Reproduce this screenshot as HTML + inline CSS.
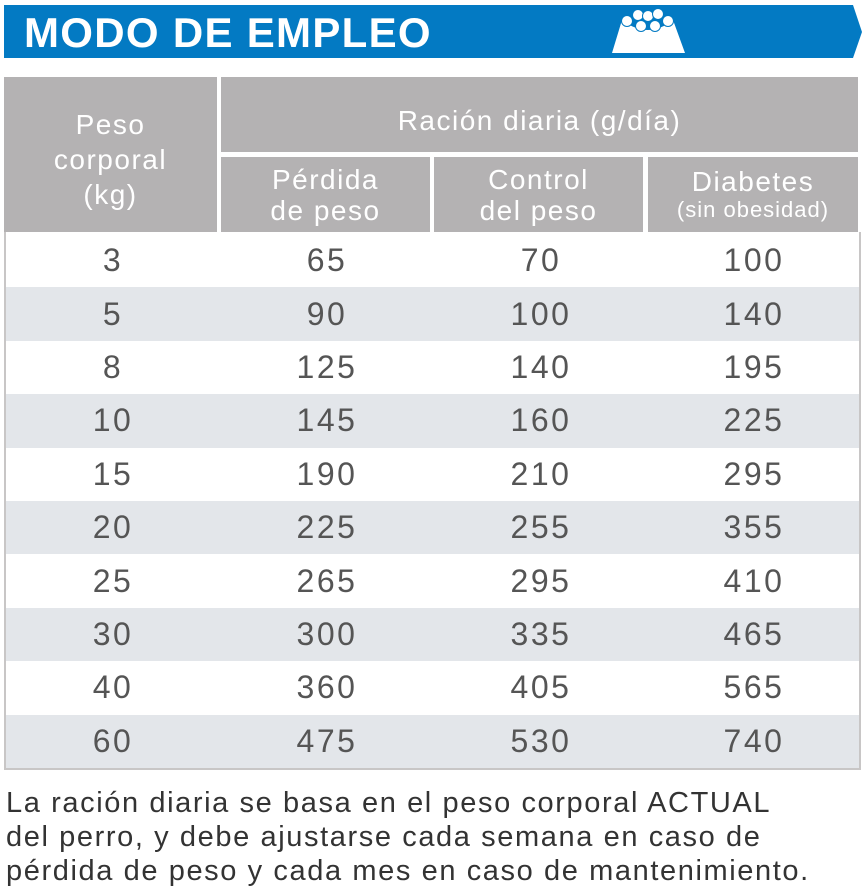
<!DOCTYPE html>
<html><head><meta charset="utf-8"><style>
body{margin:0;width:867px;height:891px;background:#fff;position:relative;font-family:"Liberation Sans",sans-serif;overflow:hidden}
.abs{position:absolute}
.hd{background:#b4b2b3;color:#fff;text-align:center;display:flex;flex-direction:column;justify-content:center;align-items:center;font-size:28px;line-height:31px;letter-spacing:1.5px}
.row{position:absolute;left:6px;width:853px;height:53.4px;display:flex;align-items:center}
.row span{position:absolute;width:140px;margin-left:-70px;text-align:center;font-size:32px;color:#555;letter-spacing:2.5px}
</style></head><body>
<svg class="abs" style="left:0;top:0" width="867" height="60">
<polygon points="4,5 853,5 862,32 853,58 4,58" fill="#037ac3"/>
<text x="24" y="47" font-family="Liberation Sans" font-weight="bold" font-size="42" fill="#fff" letter-spacing="1.3">MODO DE EMPLEO</text>
<g fill="#fff" stroke="#037ac3" stroke-width="1">
<path d="M622,20 Q648,40 673,20 L685,53 L612,53 Z" stroke="none"/>
<circle cx="627" cy="21" r="5.5"/><circle cx="668" cy="21" r="5.5"/>
<circle cx="638" cy="15" r="5.5"/><circle cx="648" cy="16" r="5.5"/><circle cx="658" cy="14" r="5.5"/>
<circle cx="641" cy="26" r="5.5"/><circle cx="655" cy="26" r="5.5"/>
</g>
</svg>
<div class="abs hd" style="left:4px;top:77px;width:213px;height:155px;line-height:35px;padding-top:10px;box-sizing:border-box">Peso<br>corporal<br>(kg)</div>
<div class="abs hd" style="left:221px;top:77px;width:637px;height:75px;padding-top:12px;box-sizing:border-box">Ración diaria (g/día)</div>
<div class="abs hd" style="left:221px;top:157px;width:209px;height:75px">Pérdida<br>de peso</div>
<div class="abs hd" style="left:434px;top:157px;width:209px;height:75px">Control<br>del peso</div>
<div class="abs hd" style="left:648px;top:157px;width:210px;height:75px">Diabetes<br><span style="font-size:22px;line-height:26px;letter-spacing:1px">(sin obesidad)</span></div>
<div class="abs" style="left:4px;top:232px;width:853px;height:536px;border:2px solid #c8c6c6;border-top:none"></div>
<div id="rows"></div>
<div class="abs" style="left:6px;top:786px;font-size:29px;line-height:34px;color:#333;letter-spacing:1.6px;white-space:nowrap">La ración diaria se basa en el peso corporal ACTUAL<br>del perro, y debe ajustarse cada semana en caso de<br>pérdida de peso y cada mes en caso de mantenimiento.</div>
<script>
const weights=[3,5,8,10,15,20,25,30,40,60];
const perdida=[65,90,125,145,190,225,265,300,360,475];
const control=[70,100,140,160,210,255,295,335,405,530];
const diabetes=[100,140,195,225,295,355,410,465,565,740];
const cols=[107,321,535,748];
const host=document.getElementById('rows');
weights.forEach((w,i)=>{
  const r=document.createElement('div');
  r.className='row';
  
  
  r.style.top=(234+i*53.4)+'px';
  r.style.background=i%2?'#e3e6ea':'#fff';
  [w,perdida[i],control[i],diabetes[i]].forEach((v,j)=>{
    const s=document.createElement('span');
    
    
    s.style.left=cols[j]+'px';
    s.textContent=v;
    r.appendChild(s);
  });
  host.appendChild(r);
});
</script>
</body></html>
